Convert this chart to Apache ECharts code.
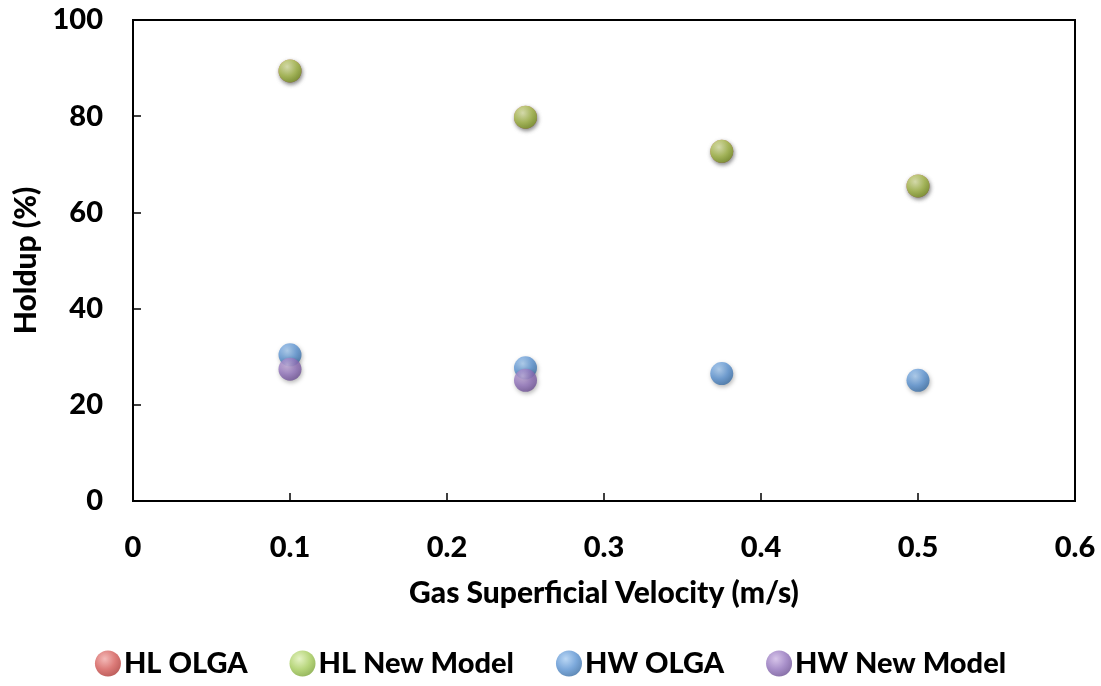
<!DOCTYPE html>
<html>
<head>
<meta charset="utf-8">
<script src="https://cdn.jsdelivr.net/npm/echarts@6/dist/echarts.min.js"></script>
<style>html,body{margin:0;padding:0;background:#fff}#c{width:1101px;height:686px}</style>
</head>
<body>
<div id="c"></div>
<script>
const xTicks = [0, 0.1, 0.2, 0.3, 0.4, 0.5, 0.6];
const yTicks = [0, 20, 40, 60, 80, 100];
const velocity = [0.1, 0.25, 0.375, 0.5];
const hlOlga = [89.4, 79.8, 72.7, 65.5];
const hlNewModel = [89.4, 79.8, 72.7, 65.5];
const hwOlga = [30.4, 27.7, 26.5, 25.1];
const hwNewModel = [27.4, 25.1];
const seriesNames = ['HL OLGA', 'HL New Model', 'HW OLGA', 'HW New Model'];

function sphere(light, mid, dark) {
  return new echarts.graphic.RadialGradient(0.38, 0.32, 0.75, [
    {offset: 0, color: light}, {offset: 0.55, color: mid}, {offset: 1, color: dark}
  ]);
}
const colors = [
  sphere('#f1a9a7', '#d35a57', '#a8322f'),
  sphere('#dff0b6', '#a6cc5c', '#77a032'),
  sphere('#a9cdf2', '#5b93d2', '#34689f'),
  sphere('#cdb6e4', '#9273bc', '#674a8e')
];
const font = 'Lato, "Open Sans", sans-serif';
const fw = 900;
function pts(xs, ys) { return ys.map((y, i) => [xs[i], y]); }
const dataSets = [pts(velocity, hlOlga), pts(velocity, hlNewModel), pts(velocity, hwOlga), pts(velocity, hwNewModel)];

const chart = echarts.init(document.getElementById('c'));
chart.setOption({
  animation: false,
  grid: {left: 133, right: 26, top: 20, bottom: 185, show: true, borderColor: '#000', borderWidth: 2, containLabel: false},
  xAxis: {
    type: 'value', min: xTicks[0], max: xTicks[xTicks.length - 1], interval: 0.1,
    name: 'Gas Superficial Velocity (m/s)', nameLocation: 'middle', nameGap: 77,
    nameTextStyle: {fontFamily: font, fontWeight: fw, fontSize: 30, color: '#000'},
    axisLine: {show: true, lineStyle: {color: '#000', width: 2}},
    axisTick: {show: true, inside: true, length: 8, lineStyle: {color: '#000', width: 1.5}},
    axisLabel: {fontFamily: font, fontWeight: fw, fontSize: 29, color: '#000', margin: 32,
      formatter: v => String(+v.toFixed(1))},
    splitLine: {show: false}
  },
  yAxis: {
    type: 'value', min: yTicks[0], max: yTicks[yTicks.length - 1], interval: 20,
    name: 'Holdup (%)', nameLocation: 'middle', nameGap: 88, nameRotate: 90,
    nameTextStyle: {fontFamily: font, fontWeight: fw, fontSize: 30, color: '#000'},
    axisLine: {show: true, lineStyle: {color: '#000', width: 2}},
    axisTick: {show: true, inside: true, length: 8, lineStyle: {color: '#000', width: 1.5}},
    axisLabel: {fontFamily: font, fontWeight: fw, fontSize: 29, color: '#000', margin: 30},
    splitLine: {show: false}
  },
  legend: {
    bottom: 3, left: 'center', icon: 'circle', itemWidth: 26, itemHeight: 26, itemGap: 42,
    textStyle: {fontFamily: font, fontWeight: fw, fontSize: 29, color: '#000', padding: [0, 0, 0, -2]},
    data: seriesNames
  },
  series: seriesNames.map((n, i) => ({
    name: n, type: 'scatter', symbol: 'circle', symbolSize: 23,
    data: dataSets[i], z: i === 0 ? 1 : 2,
    itemStyle: {color: colors[i], shadowBlur: 4, shadowColor: 'rgba(0,0,0,0.35)', shadowOffsetX: 1, shadowOffsetY: 2}
  }))
});
</script>
</body>
</html>
